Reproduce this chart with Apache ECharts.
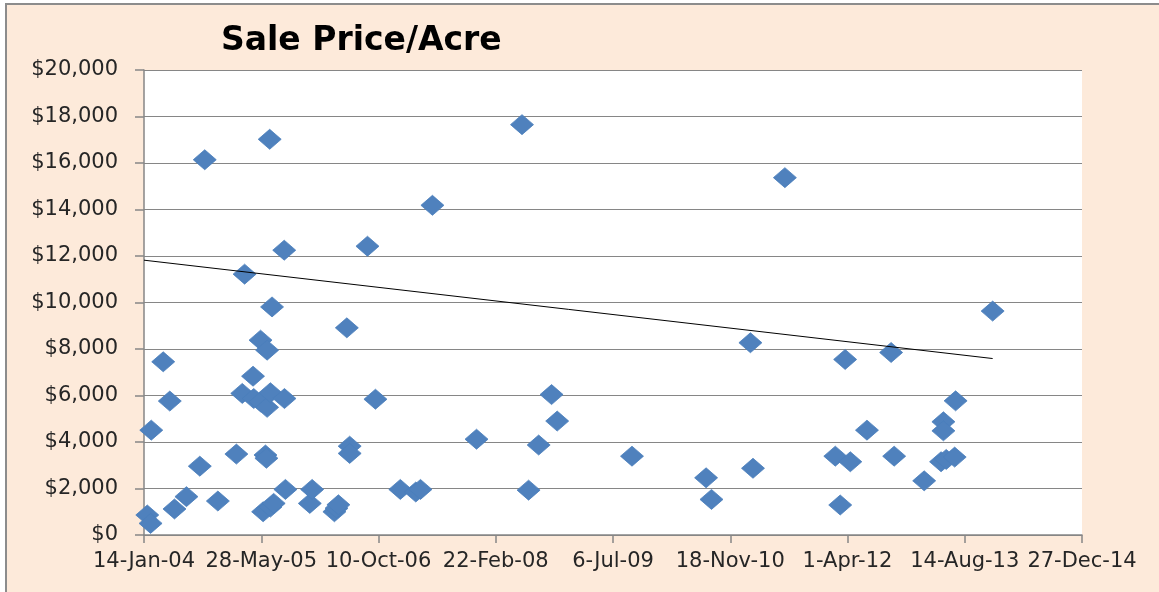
<!DOCTYPE html>
<html>
<head>
<meta charset="utf-8">
<script src="https://cdn.jsdelivr.net/npm/echarts@6/dist/echarts.min.js"></script>
<style>
  html, body { margin: 0; padding: 0; background: #fff; overflow: hidden; }
  #bg {
    position: absolute; left: 5px; top: 3px; width: 1170px; height: 600px;
    background: #FDEADA; border-left: 2px solid #8c8c8c; border-top: 2px solid #8c8c8c;
  }
  #chart { position: absolute; left: 0; top: 0; width: 1159px; height: 592px; }
</style>
</head>
<body>
<div id="bg"></div>
<div id="chart"></div>
<script>
// sale dates and price per acre
const saleDates = [
  '2004-01-28', '2004-02-11', '2004-02-14', '2004-04-05', '2004-05-03', '2004-05-23',
  '2004-07-13', '2004-09-08', '2004-09-29', '2004-11-24', '2005-02-11', '2005-03-08',
  '2005-03-18', '2005-04-23', '2005-04-26', '2005-05-25', '2005-05-25', '2005-06-05',
  '2005-06-15', '2005-06-19', '2005-06-22', '2005-06-22', '2005-07-03', '2005-07-06',
  '2005-07-06', '2005-07-13', '2005-07-20', '2005-09-03', '2005-09-04', '2005-09-08',
  '2005-12-21', '2005-12-31', '2006-04-05', '2006-04-14', '2006-04-22', '2006-05-28',
  '2006-06-09', '2006-06-09', '2006-08-24', '2006-09-27', '2007-01-11', '2007-03-18',
  '2007-04-07', '2007-05-28', '2007-12-02', '2008-06-13', '2008-07-11', '2008-08-23',
  '2008-10-17', '2008-11-10', '2009-09-25', '2010-08-07', '2010-08-30', '2011-02-12',
  '2011-02-23', '2011-07-09', '2012-02-09', '2012-03-01', '2012-03-22', '2012-04-13',
  '2012-06-23', '2012-10-04', '2012-10-17', '2013-02-22', '2013-05-05', '2013-05-15',
  '2013-05-15', '2013-05-27', '2013-07-02', '2013-07-06', '2013-12-11'
];
const pricePerAcre = [
  860, 500, 4510, 7450, 5760, 1120,
  1650, 2960, 16140, 1460, 3480, 6090,
  11220, 6830, 5870, 8380, 5730, 1000,
  3440, 3300, 7950, 5490, 17020, 6120,
  1200, 9810, 1360, 12250, 5870, 1960,
  1360, 1960, 1000, 1150, 1300, 8910,
  3820, 3510, 12420, 5840, 1960, 1850,
  1960, 14180, 4120, 17650, 1930, 3870,
  6040, 4900, 3390, 2460, 1530, 8270,
  2870, 15370, 3390, 1290, 7550, 3150,
  4510, 7850, 3390, 2330, 3150, 4870,
  4480, 3250, 3350, 5770, 9630
];

// linear trendline as drawn in the picture (start and end)
const trendDates = ['2004-01-14', '2013-12-11'];
const trendValues = [11820, 7590];

// x axis: Excel-style day serials, 14-Jan-04 .. 27-Dec-14 every 500 days
const xMin = 38000, xMax = 42000, xStep = 500;
const yMin = 0, yMax = 20000, yStep = 2000;

const DAY = 86400000;
const EPOCH = Date.UTC(1899, 11, 30);
const MONTHS = ['Jan','Feb','Mar','Apr','May','Jun','Jul','Aug','Sep','Oct','Nov','Dec'];

function toSerial(s) {
  const p = s.split('-').map(Number);
  return Math.round((Date.UTC(p[0], p[1] - 1, p[2]) - EPOCH) / DAY);
}
function fmtDate(v) {
  const d = new Date(EPOCH + v * DAY);
  return d.getUTCDate() + '-' + MONTHS[d.getUTCMonth()] + '-' + String(d.getUTCFullYear()).slice(2);
}

const points = saleDates.map((s, i) => [toSerial(s), pricePerAcre[i]]);
const trend = trendDates.map((s, i) => [toSerial(s), trendValues[i]]);

const chart = echarts.init(document.getElementById('chart'), null, { renderer: 'canvas' });

const axisGray = '#868686';
const labelFont = { fontFamily: 'DejaVu Sans', fontSize: 21, color: '#262626' };

chart.setOption({
  animation: false,
  title: {
    text: 'Sale Price/Acre',
    left: 216,
    top: 16,
    textStyle: { fontFamily: 'DejaVu Sans', fontWeight: 'bold', fontSize: 33, color: '#000', lineHeight: 40 }
  },
  grid: {
    left: 144, right: 77, top: 70, bottom: 57,
    show: true, backgroundColor: '#ffffff', borderWidth: 0,
    containLabel: false, outerBoundsMode: 'none'
  },
  xAxis: {
    type: 'value',
    min: xMin, max: xMax, interval: xStep,
    axisLine: { lineStyle: { color: axisGray, width: 1.5 } },
    axisTick: { show: true, length: 8, lineStyle: { color: axisGray, width: 1.5 } },
    splitLine: { show: false },
    axisLabel: Object.assign({ margin: 16, hideOverlap: false, formatter: fmtDate }, labelFont)
  },
  yAxis: {
    type: 'value',
    min: yMin, max: yMax, interval: yStep,
    axisLine: { show: true, lineStyle: { color: axisGray, width: 1.5 } },
    axisTick: { show: true, length: 9, lineStyle: { color: axisGray, width: 1.5 } },
    splitLine: { show: true, lineStyle: { color: axisGray, width: 1.2 } },
    axisLabel: Object.assign({
      margin: 26,
      formatter: v => '$' + v.toLocaleString('en-US')
    }, labelFont)
  },
  series: [
    {
      name: 'Sale Price/Acre',
      type: 'scatter',
      symbol: 'diamond',
      symbolSize: [23, 20],
      itemStyle: { color: '#4F81BD', borderColor: '#4A7EBB', borderWidth: 0.8, opacity: 1 },
      data: points,
      z: 3
    },
    {
      name: 'Trend',
      type: 'line',
      data: trend,
      symbol: 'none',
      silent: true,
      lineStyle: { color: '#000', width: 1 },
      z: 4
    }
  ]
});
</script>
</body>
</html>
